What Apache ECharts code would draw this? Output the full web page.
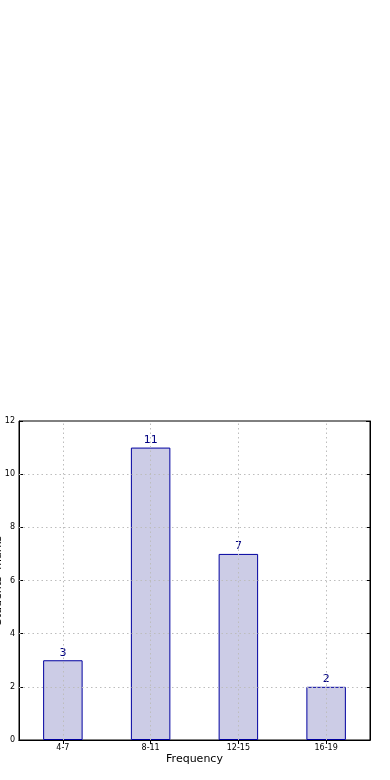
<!DOCTYPE html>
<html><head><meta charset="utf-8">
<script src="https://cdn.jsdelivr.net/npm/echarts@6/dist/echarts.min.js"></script>
<style>html,body{margin:0;padding:0;background:#fff}#c{width:390px;height:780px}</style>
</head><body><div id="c"></div>
<script>
const categories = ['4-7', '8-11', '12-15', '16-19'];
const counts = [3, 11, 7, 2];
const yTicks = [0, 2, 4, 6, 8, 10, 12];
const xName = 'Frequency';
const yName = "Students' marks";

const chart = echarts.init(document.getElementById('c'));
const gridLineStyle = {color: '#bdbdbd', type: [1.5, 3], width: 1};
const markData = categories.map(c => ({xAxis: c}))
  .concat(yTicks.slice(1, -1).map(v => ({yAxis: v})));
chart.setOption({
  animation: false,
  textStyle: {fontFamily: 'DejaVu Sans'},
  grid: {left: 19, right: 20, top: 421, bottom: 40, containLabel: false, outerBoundsMode: 'none', show: true, borderColor: '#000', borderWidth: 1},
  xAxis: [{
    type: 'category', data: categories,
    name: xName, nameLocation: 'middle', nameGap: 14, nameMoveOverlap: false,
    nameTextStyle: {fontSize: 11, color: '#000'},
    axisLine: {show: true, lineStyle: {color: '#000'}},
    axisTick: {show: true, inside: true, alignWithLabel: true, length: 4, lineStyle: {color: '#000'}},
    axisLabel: {fontSize: 8, color: '#000', margin: 4},
    splitLine: {show: false}
  }, {
    type: 'category', data: categories, position: 'top',
    axisLine: {show: true, lineStyle: {color: '#000'}},
    axisTick: {show: true, inside: true, alignWithLabel: true, length: 4, lineStyle: {color: '#000'}},
    axisLabel: {show: false}
  }],
  yAxis: [{
    type: 'value', min: 0, max: 12, interval: 2,
    name: yName, nameLocation: 'middle', nameGap: 15, nameRotate: 90, nameMoveOverlap: false,
    nameTextStyle: {fontSize: 11, color: '#000'},
    axisLine: {show: true, lineStyle: {color: '#000'}},
    axisTick: {show: true, inside: true, length: 4, lineStyle: {color: '#000'}},
    axisLabel: {fontSize: 8, color: '#000', margin: 4},
    splitLine: {show: false}
  }, {
    type: 'value', min: 0, max: 12, interval: 2, position: 'right',
    axisLine: {show: true, lineStyle: {color: '#000'}},
    axisTick: {show: true, inside: true, length: 4, lineStyle: {color: '#000'}},
    axisLabel: {show: false},
    splitLine: {show: false}
  }],
  series: [{
    type: 'bar', data: counts, barWidth: '45%',
    itemStyle: {color: '#ccccE6', borderColor: '#0000A0', borderWidth: 1},
    label: {show: true, position: 'top', distance: 2, fontSize: 11, color: '#000080'},
    markLine: {
      silent: true, symbol: 'none', label: {show: false},
      lineStyle: gridLineStyle,
      data: markData
    }
  }]
});
</script></body></html>
